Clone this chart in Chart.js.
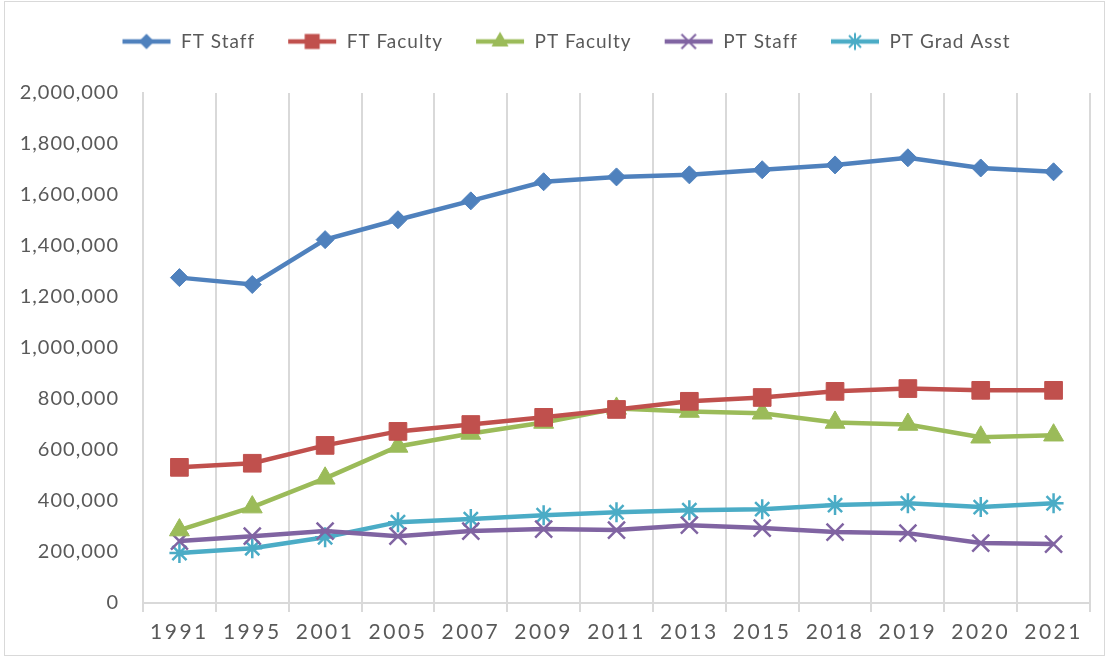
<!DOCTYPE html>
<html>
<head>
<meta charset="utf-8">
<script src="https://cdn.jsdelivr.net/npm/chart.js@4/dist/chart.umd.min.js"></script>
<style>
  html,body{margin:0;padding:0;background:#fff;}
  .wrap{position:relative;width:1109px;height:660px;}
  .frame{position:absolute;left:4px;top:1px;width:1101px;height:655px;border:1px solid #d9d9d9;box-sizing:border-box;}
  #chart{position:absolute;left:0;top:0;}
</style>
</head>
<body>
<div class="wrap">
  <div class="frame"></div>
  <canvas id="chart" width="1109" height="660"></canvas>
</div>
<script>
// Staffing counts by year
const years = ['1991','1995','2001','2005','2007','2009','2011','2013','2015','2018','2019','2020','2021'];
const ftStaff    = [1276000,1249000,1425000,1503000,1577000,1652000,1671000,1679000,1699000,1718000,1746000,1706000,1691000];
const ftFaculty  = [532000,548000,618000,673000,700000,728000,759000,791000,806000,830000,841000,834000,834000];
const ptFaculty  = [286000,376000,489000,614000,665000,708000,763000,751000,744000,708000,700000,650000,658000];
const ptStaff    = [243000,262000,282000,262000,282000,290000,286000,305000,294000,278000,274000,235000,231000];
const ptGradAsst = [196000,215000,258000,317000,329000,344000,356000,364000,368000,384000,391000,376000,391000];
const yTicks = [0,200000,400000,600000,800000,1000000,1200000,1400000,1600000,1800000,2000000];

(function(){
  const txt = '#595959';
  const grid = '#d9d9d9';
  const padLeft = 42;

  const series = [
    { label:'FT Staff',     data:ftStaff,    color:'#4f81bd', style:'rectRot',  radius:9,   bw:1 },
    { label:'FT Faculty',   data:ftFaculty,  color:'#c0504d', style:'rect',     radius:12.5,bw:1 },
    { label:'PT Faculty',   data:ptFaculty,  color:'#9bbb59', style:'triangle', radius:11.5,bw:1 },
    { label:'PT Staff',     data:ptStaff,    color:'#8064a2', style:'crossRot', radius:12,  bw:2.5 },
    { label:'PT Grad Asst', data:ptGradAsst, color:'#4bacc6', style:'star',     radius:10,  bw:2.5 }
  ];

  // legend swatch: line with the marker on it
  const makeSwatch = (s)=>{
    const c = document.createElement('canvas');
    c.width = 50; c.height = 24;
    const g = c.getContext('2d');
    const cx = 25, cy = 12;
    g.strokeStyle = s.color; g.fillStyle = s.color;
    g.lineWidth = 4.5;
    g.beginPath(); g.moveTo(1, cy); g.lineTo(49, cy); g.stroke();
    g.lineWidth = 2;
    const r = s.radius * 0.85;
    g.beginPath();
    if(s.style === 'rectRot'){
      g.moveTo(cx, cy - r); g.lineTo(cx + r, cy); g.lineTo(cx, cy + r); g.lineTo(cx - r, cy); g.closePath(); g.fill();
    }else if(s.style === 'rect'){
      const h = r * Math.SQRT1_2; g.rect(cx - h, cy - h, 2*h, 2*h); g.fill();
    }else if(s.style === 'triangle'){
      const w = r * 0.87; g.moveTo(cx, cy - r); g.lineTo(cx + w, cy + r/2); g.lineTo(cx - w, cy + r/2); g.closePath(); g.fill();
    }else if(s.style === 'crossRot'){
      const h = r * Math.SQRT1_2;
      g.moveTo(cx - h, cy - h); g.lineTo(cx + h, cy + h); g.moveTo(cx + h, cy - h); g.lineTo(cx - h, cy + h); g.stroke();
    }else{
      const h = r * Math.SQRT1_2;
      g.moveTo(cx - h, cy - h); g.lineTo(cx + h, cy + h); g.moveTo(cx + h, cy - h); g.lineTo(cx - h, cy + h);
      g.moveTo(cx, cy - r); g.lineTo(cx, cy + r); g.stroke();
    }
    return c;
  };
  const swatches = series.map(makeSwatch);

  // wider text spacing + extra room under the legend
  const tweaks = {
    id: 'tweaks',
    beforeInit(chart){
      const lg = chart.legend;
      if(lg){
        const fit = lg.fit;
        lg.fit = function(){ fit.call(this); this.height += 32; };
      }
    },
    beforeUpdate(chart){ chart.ctx.letterSpacing = '1px'; },
    beforeDraw(chart){ chart.ctx.letterSpacing = '1px'; }
  };

  // x labels are spaced out a bit more
  const spreadX = (sc)=>{
    if(sc._spread) return;
    sc._spread = true;
    const orig = sc.drawLabels;
    sc.drawLabels = function(area){
      this.ctx.save();
      this.ctx.letterSpacing = '2.5px';
      orig.call(this, area);
      this.ctx.restore();
    };
  };

  // y labels stick out past the (narrowed) scale box, so don't clip them
  const noClipY = (sc)=>{ sc._computeLabelArea = ()=> undefined; };

  new Chart(document.getElementById('chart'), {
    type: 'line',
    plugins: [tweaks],
    data: {
      labels: years,
      datasets: series.map(s => ({
        label: s.label,
        data: s.data,
        borderColor: s.color,
        backgroundColor: s.color,
        borderWidth: 4.5,
        pointStyle: s.style,
        pointRadius: s.radius,
        pointHoverRadius: s.radius,
        pointBorderWidth: s.bw,
        pointBackgroundColor: s.color,
        pointBorderColor: s.color,
        tension: 0,
        fill: false
      }))
    },
    options: {
      responsive: false,
      animation: false,
      layout: { padding: { left: padLeft, right: 19, top: 0, bottom: 0 } },
      plugins: {
        tooltip: { enabled: false },
        legend: {
          position: 'top',
          labels: {
            usePointStyle: true,
            pointStyleWidth: 50,
            padding: 32,
            color: txt,
            font: { family: 'Lato', size: 19 },
            generateLabels: (chart)=>{
              const items = Chart.defaults.plugins.legend.labels.generateLabels(chart);
              items.forEach((it, i)=>{ it.pointStyle = swatches[i]; });
              return items;
            }
          }
        }
      },
      scales: {
        x: {
          offset: true,
          grid: { display: true, offset: true, color: grid, lineWidth: 2, drawTicks: true, tickLength: 9, tickColor: grid },
          border: { display: true, color: grid, width: 2 },
          ticks: { color: txt, font: { family: 'Lato', size: 21 }, padding: 8, maxRotation: 0, autoSkip: false },
          afterFit: (sc)=>{ sc.height = 57; },
          afterUpdate: spreadX
        },
        y: {
          min: 0,
          max: 2000000,
          afterBuildTicks: (sc)=>{ sc.ticks = yTicks.map(v => ({ value: v })); },
          grid: { display: false, drawTicks: false },
          border: { display: true, color: grid, width: 2 },
          ticks: {
            color: txt,
            font: { family: 'Lato', size: 20 },
            padding: 24,
            callback: (v)=> Number(v).toLocaleString('en-US')
          },
          afterFit: (sc)=>{ sc.width = 143 - padLeft; },
          afterUpdate: noClipY
        }
      }
    }
  });
})();
</script>
</body>
</html>
